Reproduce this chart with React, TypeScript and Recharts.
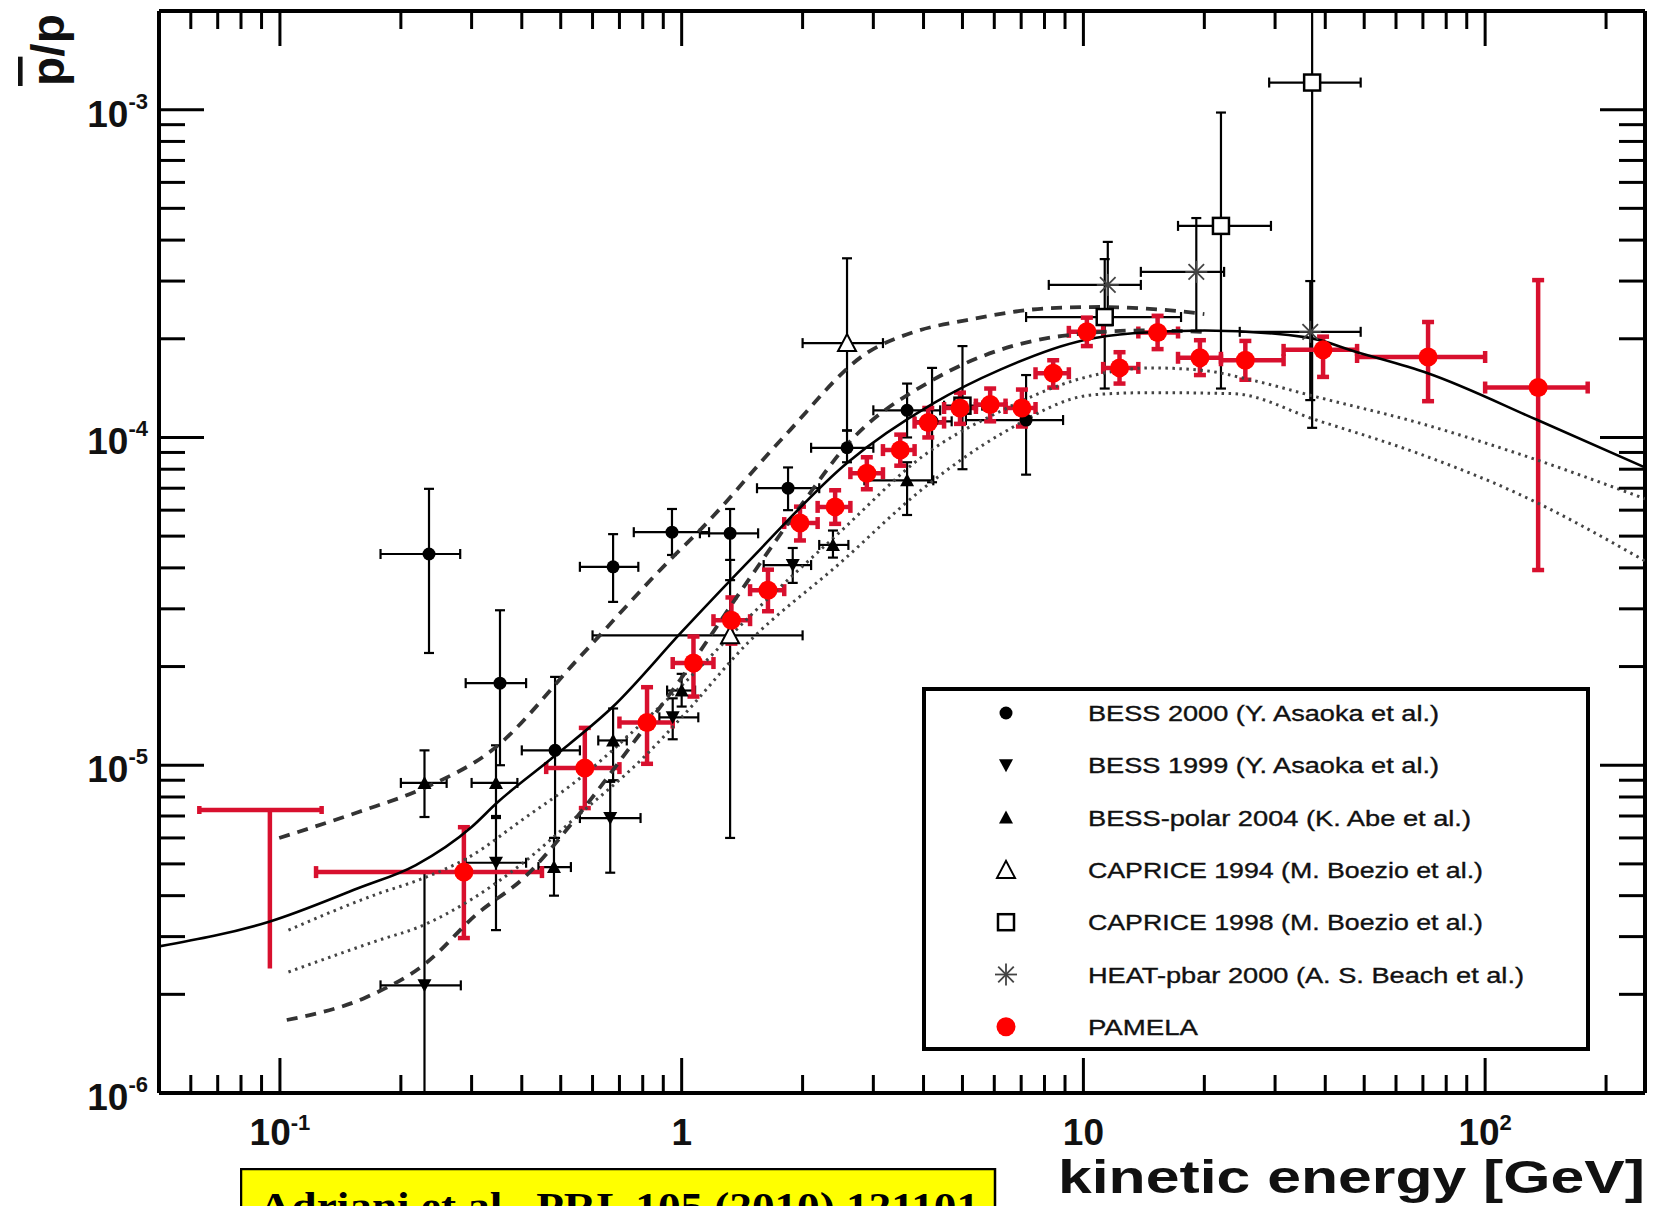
import React from 'react';
import { ComposedChart, Scatter, XAxis, YAxis, ErrorBar, Legend } from 'recharts';

const W = 1659;
const H = 1206;
const FONT = "'Liberation Sans', Arial, Helvetica, sans-serif";

// axis ticks (log decades + minor steps)
const xTicks = [0.05, 0.06, 0.07, 0.08, 0.09, 0.1, 0.2, 0.3, 0.4, 0.5, 0.6, 0.7, 0.8, 0.9, 1, 2, 3, 4, 5, 6, 7, 8, 9, 10, 20, 30, 40, 50, 60, 70, 80, 90, 100, 200];
const yTicks = [1e-6, 2e-6, 3e-6, 4e-6, 5e-6, 6e-6, 7e-6, 8e-6, 9e-6, 1e-5, 2e-5, 3e-5, 4e-5, 5e-5, 6e-5, 7e-5, 8e-5, 9e-5, 1e-4, 2e-4, 3e-4, 4e-4, 5e-4, 6e-4, 7e-4, 8e-4, 9e-4, 1e-3];

// PAMELA
const pamE = [0.287, 0.574, 0.82, 1.07, 1.33, 1.64, 1.97, 2.41, 2.89, 3.5, 4.11, 4.93, 5.86, 7.03, 8.41, 10.2, 12.3, 15.3, 19.5, 25.3, 39.5, 72.1, 135.5];
const pamR = [4.72e-6, 9.8e-6, 1.35e-5, 2.05e-5, 2.77e-5, 3.42e-5, 5.48e-5, 6.14e-5, 7.78e-5, 9.15e-5, 1.11e-4, 1.23e-4, 1.26e-4, 1.23e-4, 1.57e-4, 2.1e-4, 1.63e-4, 2.09e-4, 1.75e-4, 1.72e-4, 1.85e-4, 1.76e-4, 1.42e-4];
const pamELo = [0.123, 0.46, 0.7, 0.95, 1.2, 1.48, 1.8, 2.18, 2.63, 3.17, 3.8, 4.5, 5.4, 6.4, 7.6, 9.2, 11.2, 13.7, 17.2, 22, 31.5, 48, 100];
const pamEHi = [0.449, 0.7, 0.95, 1.2, 1.48, 1.8, 2.18, 2.63, 3.17, 3.8, 4.5, 5.4, 6.4, 7.6, 9.2, 11.2, 13.7, 17.2, 22, 31.5, 48, 100, 180];
const pamRLo = [2.97e-6, 7.4e-6, 1.01e-5, 1.62e-5, 2.35e-5, 2.95e-5, 4.85e-5, 5.45e-5, 6.95e-5, 8.2e-5, 1.0e-4, 1.1e-4, 1.12e-4, 1.08e-4, 1.42e-4, 1.9e-4, 1.46e-4, 1.86e-4, 1.55e-4, 1.5e-4, 1.53e-4, 1.29e-4, 3.94e-5];
const pamRHi = [6.47e-6, 1.3e-5, 1.73e-5, 2.47e-5, 3.25e-5, 3.95e-5, 6.15e-5, 6.9e-5, 8.7e-5, 1.02e-4, 1.23e-4, 1.37e-4, 1.41e-4, 1.4e-4, 1.72e-4, 2.32e-4, 1.82e-4, 2.35e-4, 1.98e-4, 1.97e-4, 2.03e-4, 2.25e-4, 3.02e-4];

// PAMELA upper limit (lowest bin)
const limE = [0.0944];
const limR = [7.3e-6];
const limELo = [0.063];
const limEHi = [0.127];
const limRLo = [2.4e-6];
const limRHi = [7.3e-6];

// BESS 2000
const b00E = [0.235, 0.353, 0.484, 0.675, 0.946, 1.32, 1.84, 2.58, 3.64, 4.2, 7.2];
const b00R = [4.41e-5, 1.78e-5, 1.11e-5, 4.03e-5, 5.14e-5, 5.1e-5, 7.0e-5, 9.3e-5, 1.21e-4, 1.12e-4, 1.13e-4];
const b00ELo = [0.178, 0.29, 0.4, 0.558, 0.76, 1.11, 1.54, 2.1, 3.0, 3.8, 5.1];
const b00EHi = [0.281, 0.41, 0.558, 0.78, 1.17, 1.55, 2.2, 3.0, 4.4, 4.7, 8.9];
const b00RLo = [2.2e-5, 1.0e-5, 6.0e-6, 3.15e-5, 4.38e-5, 3.67e-5, 6.0e-5, 8.4e-5, 1.0e-4, 7.3e-5, 7.7e-5];
const b00RHi = [6.97e-5, 2.97e-5, 1.86e-5, 5.07e-5, 6.05e-5, 6.05e-5, 8.1e-5, 1.05e-4, 1.46e-4, 1.63e-4, 1.55e-4];

// BESS 1999
const b99E = [0.229, 0.345, 0.664, 0.95, 1.89];
const b99R = [2.13e-6, 5.04e-6, 6.9e-6, 1.4e-5, 4.08e-5];
const b99ELo = [0.178, 0.29, 0.558, 0.88, 1.6];
const b99EHi = [0.282, 0.41, 0.79, 1.1, 2.1];
const b99RLo = [1e-6, 3.14e-6, 4.7e-6, 1.2e-5, 3.6e-5];
const b99RHi = [4.69e-6, 7.0e-6, 8.9e-6, 1.6e-5, 4.6e-5];

// BESS-polar 2004
const bpE = [0.229, 0.345, 0.481, 0.675, 1.0, 2.38, 3.64];
const bpR = [8.83e-6, 8.83e-6, 4.89e-6, 1.19e-5, 1.69e-5, 4.7e-5, 7.4e-5];
const bpELo = [0.2, 0.3, 0.44, 0.62, 0.92, 2.2, 2.85];
const bpEHi = [0.26, 0.39, 0.53, 0.73, 1.08, 2.6, 4.23];
const bpRLo = [6.95e-6, 6.9e-6, 4.0e-6, 9.0e-6, 1.51e-5, 4.3e-5, 5.8e-5];
const bpRHi = [1.11e-5, 1.15e-5, 6.0e-6, 1.49e-5, 1.9e-5, 5.2e-5, 8.4e-5];

// CAPRICE 1994
const c94E = [1.32, 2.58];
const c94R = [2.49e-5, 1.94e-4];
const c94ELo = [0.6, 2.0];
const c94EHi = [2.0, 3.17];
const c94RLo = [6.0e-6, 1.05e-4];
const c94RHi = [4.23e-5, 3.52e-4];

// CAPRICE 1998
const c98E = [5.0, 11.3, 22.0, 37.1];
const c98R = [1.25e-4, 2.33e-4, 4.42e-4, 1.21e-3];
const c98ELo = [4.5, 7.2, 17.2, 29];
const c98EHi = [5.6, 17.5, 29.3, 49];
const c98RLo = [8.0e-5, 1.41e-4, 1.41e-4, 1.07e-4];
const c98RHi = [1.9e-4, 3.5e-4, 9.8e-4, 2e-3];

// HEAT-pbar 2000
const heatE = [11.5, 19.1, 36.7];
const heatR = [2.92e-4, 3.2e-4, 2.1e-4];
const heatELo = [8.2, 13.9, 24.5];
const heatEHi = [13.9, 22.4, 49];
const heatRLo = [2.2e-4, 2.1e-4, 1.3e-4];
const heatRHi = [3.95e-4, 4.67e-4, 3.0e-4];

// theory curves
const solidE = [0.05, 0.094, 0.157, 0.218, 0.3, 0.347, 0.475, 0.675, 1.0, 1.48, 2.58, 4.23, 6.21, 10, 13.3, 20, 36, 48, 72, 135, 250];
const solidR = [2.8e-6, 3.33e-6, 4.22e-6, 4.96e-6, 6.48e-6, 7.68e-6, 1.05e-5, 1.51e-5, 2.55e-5, 4.23e-5, 8.36e-5, 1.27e-4, 1.61e-4, 1.98e-4, 2.08e-4, 2.12e-4, 2.02e-4, 1.82e-4, 1.57e-4, 1.13e-4, 8.1e-5];
const dashHiE = [0.0996, 0.157, 0.231, 0.337, 0.558, 0.935, 1.11, 1.79, 2.89, 3.8, 5.13, 8.26, 11, 17.7, 20];
const dashHiR = [6.0e-6, 7.2e-6, 8.57e-6, 1.11e-5, 2.14e-5, 4.23e-5, 5.21e-5, 1.0e-4, 1.81e-4, 2.1e-4, 2.28e-4, 2.48e-4, 2.5e-4, 2.42e-4, 2.38e-4];
const dashLoE = [0.104, 0.164, 0.231, 0.308, 0.41, 0.546, 0.75, 1.0, 1.45, 2.0, 2.58, 4.23, 6.2, 9.1, 14, 20];
const dashLoR = [1.67e-6, 1.96e-6, 2.49e-6, 3.5e-6, 4.6e-6, 6.9e-6, 1.15e-5, 1.85e-5, 3.6e-5, 6.3e-5, 9.5e-5, 1.5e-4, 1.85e-4, 2.05e-4, 2.12e-4, 2.1e-4];
const dotHiE = [0.105, 0.177, 0.222, 0.3, 0.4, 0.55, 0.8, 1.0, 1.5, 2.5, 4.0, 6.2, 10, 14.7, 20, 26, 38, 68, 120, 250];
const dotHiR = [3.14e-6, 4.07e-6, 4.47e-6, 5.3e-6, 6.8e-6, 9.0e-6, 1.35e-5, 1.75e-5, 2.9e-5, 5.2e-5, 8.8e-5, 1.2e-4, 1.52e-4, 1.63e-4, 1.6e-4, 1.5e-4, 1.33e-4, 1.11e-4, 8.95e-5, 6.5e-5];
const dotLoE = [0.105, 0.177, 0.222, 0.3, 0.4, 0.55, 0.8, 1.0, 1.46, 2.48, 4.0, 6.2, 10.6, 14.7, 23.6, 38, 68, 120, 250];
const dotLoR = [2.34e-6, 2.93e-6, 3.21e-6, 3.9e-6, 5.0e-6, 7.0e-6, 1.05e-5, 1.4e-5, 2.36e-5, 4.14e-5, 7.0e-5, 1.02e-4, 1.35e-4, 1.37e-4, 1.36e-4, 1.13e-4, 8.95e-5, 6.76e-5, 4.2e-5];

const legendLabels = [
  'BESS 2000 (Y. Asaoka et al.)',
  'BESS 1999 (Y. Asaoka et al.)',
  'BESS-polar 2004 (K. Abe et al.)',
  'CAPRICE 1994 (M. Boezio et al.)',
  'CAPRICE 1998 (M. Boezio et al.)',
  'HEAT-pbar 2000 (A. S. Beach et al.)',
  'PAMELA',
];
const legendWidths = [351, 351, 383, 395, 395, 436, 110];

const pts = (x: number[], y: number[], xlo: number[], xhi: number[], ylo: number[], yhi: number[]) =>
  x.map((xv, i) => ({ x: xv, y: y[i], ex: [xv - xlo[i], xhi[i] - xv], ey: [y[i] - ylo[i], yhi[i] - y[i]] }));
const curve = (x: number[], y: number[]) => x.map((xv, i) => ({ x: xv, y: y[i] }));

const pamela = pts(pamE, pamR, pamELo, pamEHi, pamRLo, pamRHi);
const pamLimit = pts(limE, limR, limELo, limEHi, limRLo, limRHi);
const bess00 = pts(b00E, b00R, b00ELo, b00EHi, b00RLo, b00RHi);
const bess99 = pts(b99E, b99R, b99ELo, b99EHi, b99RLo, b99RHi);
const bessPolar = pts(bpE, bpR, bpELo, bpEHi, bpRLo, bpRHi);
const cap94 = pts(c94E, c94R, c94ELo, c94EHi, c94RLo, c94RHi);
const cap98 = pts(c98E, c98R, c98ELo, c98EHi, c98RLo, c98RHi);
const heat = pts(heatE, heatR, heatELo, heatEHi, heatRLo, heatRHi);

const isMajor = (v: number) => Math.abs(Math.log10(v) - Math.round(Math.log10(v))) < 1e-6;

const powText = (v: number, x: number, y: number, anchor: 'middle' | 'end', supDy: number) => {
  const e = Math.round(Math.log10(v));
  const common = { x, y, textAnchor: anchor, fontFamily: FONT, fontWeight: 'bold' as const, fontSize: 37, fill: '#111' };
  if (e === 0) return <text {...common}>1</text>;
  if (e === 1) return <text {...common}>10</text>;
  return (
    <text {...common}>
      <tspan>10</tspan>
      <tspan dy={supDy} fontSize={22}>{e}</tspan>
    </text>
  );
};

const BottomTick = (p: any) => {
  const v = p.payload.value;
  const maj = isMajor(v);
  return (
    <g>
      <line x1={p.x} y1={p.y} x2={p.x} y2={p.y - (maj ? 35 : 18)} stroke="#000" strokeWidth={3} />
      {maj && powText(v, p.x, 1145, 'middle', -15)}
    </g>
  );
};
const TopTick = (p: any) => {
  const maj = isMajor(p.payload.value);
  return <line x1={p.x} y1={p.y} x2={p.x} y2={p.y + (maj ? 35 : 18)} stroke="#000" strokeWidth={3} />;
};
const LeftTick = (p: any) => {
  const v = p.payload.value;
  const maj = isMajor(v);
  return (
    <g>
      <line x1={p.x} y1={p.y} x2={p.x + (maj ? 45 : 26)} y2={p.y} stroke="#000" strokeWidth={3} />
      {maj && powText(v, 148, p.y + 17, 'end', -18)}
    </g>
  );
};
const RightTick = (p: any) => {
  const maj = isMajor(p.payload.value);
  return <line x1={p.x} y1={p.y} x2={p.x - (maj ? 45 : 26)} y2={p.y} stroke="#000" strokeWidth={3} />;
};

const redDot = (p: any) => <circle cx={p.cx} cy={p.cy} r={9.5} fill="#ff0000" />;
const blackDot = (p: any) => <circle cx={p.cx} cy={p.cy} r={6.5} fill="#000" />;
const downTri = (p: any) => (
  <polygon points={`${p.cx - 7},${p.cy - 6} ${p.cx + 7},${p.cy - 6} ${p.cx},${p.cy + 7}`} fill="#000" />
);
const upTri = (p: any) => (
  <polygon points={`${p.cx - 7},${p.cy + 6} ${p.cx + 7},${p.cy + 6} ${p.cx},${p.cy - 7}`} fill="#000" />
);
const openTri = (p: any) => (
  <polygon points={`${p.cx - 9},${p.cy + 8} ${p.cx + 9},${p.cy + 8} ${p.cx},${p.cy - 9}`} fill="#fff" stroke="#000" strokeWidth={2} />
);
const openSquare = (p: any) => (
  <rect x={p.cx - 8} y={p.cy - 8} width={16} height={16} fill="#fff" stroke="#000" strokeWidth={2.5} />
);
const star = (p: any) => (
  <g stroke="#444" strokeWidth={1.8}>
    {[0, 45, 90, 135].map((a) => {
      const r = 11;
      const dx = r * Math.cos((a * Math.PI) / 180);
      const dy = r * Math.sin((a * Math.PI) / 180);
      return <line key={a} x1={p.cx - dx} y1={p.cy - dy} x2={p.cx + dx} y2={p.cy + dy} />;
    })}
  </g>
);
const noShape = () => <g />;

const legendMarkers = [blackDot, downTri, upTri, openTri, openSquare, star, redDot];

const LegendBox = () => (
  <svg width={668} height={364} style={{ display: 'block' }}>
    <rect x={2} y={2} width={664} height={360} fill="#fff" stroke="#000" strokeWidth={4} />
    {legendLabels.map((label, i) => {
      const cy = 26 + i * 52.3;
      return (
        <g key={label}>
          {legendMarkers[i]({ cx: 84, cy })}
          <text x={166} y={cy + 8} fontFamily={FONT} fontSize={22} fill="#111" stroke="#111" strokeWidth={0.35} textLength={legendWidths[i]} lengthAdjust="spacingAndGlyphs">
            {label}
          </text>
        </g>
      );
    })}
  </svg>
);

const YTitle = () => (
  <text transform="translate(64,86) rotate(-90)" fontFamily={FONT} fontWeight="bold" fontSize={46} fill="#111" textLength={72} lengthAdjust="spacingAndGlyphs">
    <tspan style={{ textDecoration: 'overline' }}>p</tspan>/p
  </text>
);
const XTitle = () => (
  <text x={1058} y={1193} fontFamily={FONT} fontWeight="bold" fontSize={46} fill="#111" textLength={587} lengthAdjust="spacingAndGlyphs">
    kinetic energy [GeV]
  </text>
);

const blackBars = (w = 5) => [
  <ErrorBar key="x" dataKey="ex" direction="x" width={w} stroke="#000" strokeWidth={2.2} />,
  <ErrorBar key="y" dataKey="ey" direction="y" width={w} stroke="#000" strokeWidth={2.2} />,
];

const dotLine = { stroke: '#444', strokeWidth: 3, strokeDasharray: '2.5 4.5' };
const dashLine = { stroke: '#333', strokeWidth: 3.8, strokeDasharray: '11 8' };

export default function App() {
  return (
    <div style={{ position: 'absolute', left: 0, top: 0, width: W, height: H, overflow: 'hidden', background: '#fff' }}>
      <ComposedChart width={W} height={H} margin={{ top: 10, right: 13, bottom: 112, left: 158 }}>
        <XAxis
          dataKey="x"
          type="number"
          scale="log"
          domain={[0.05, 250]}
          allowDataOverflow
          ticks={xTicks}
          interval={0}
          height={1}
          tickSize={0}
          tickMargin={0}
          tickLine={false}
          axisLine={{ stroke: '#000', strokeWidth: 4 }}
          tick={BottomTick}
          label={{ content: XTitle }}
        />
        <XAxis
          xAxisId="top"
          orientation="top"
          dataKey="x"
          type="number"
          scale="log"
          domain={[0.05, 250]}
          allowDataOverflow
          ticks={xTicks}
          interval={0}
          height={1}
          tickSize={0}
          tickMargin={0}
          tickLine={false}
          axisLine={{ stroke: '#000', strokeWidth: 4 }}
          tick={TopTick}
        />
        <YAxis
          dataKey="y"
          type="number"
          scale="log"
          domain={[1e-6, 2e-3]}
          allowDataOverflow
          ticks={yTicks}
          interval={0}
          width={1}
          tickSize={0}
          tickMargin={0}
          tickLine={false}
          axisLine={{ stroke: '#000', strokeWidth: 4 }}
          tick={LeftTick}
          label={{ content: YTitle }}
        />
        <YAxis
          yAxisId="right"
          orientation="right"
          dataKey="y"
          type="number"
          scale="log"
          domain={[1e-6, 2e-3]}
          allowDataOverflow
          ticks={yTicks}
          interval={0}
          width={1}
          tickSize={0}
          tickMargin={0}
          tickLine={false}
          axisLine={{ stroke: '#000', strokeWidth: 4 }}
          tick={RightTick}
        />

        <Scatter data={curve(dotHiE, dotHiR)} shape={noShape} line={dotLine} lineJointType="monotoneX" isAnimationActive={false} legendType="none" />
        <Scatter data={curve(dotLoE, dotLoR)} shape={noShape} line={dotLine} lineJointType="monotoneX" isAnimationActive={false} legendType="none" />
        <Scatter data={curve(dashHiE, dashHiR)} shape={noShape} line={dashLine} lineJointType="monotoneX" isAnimationActive={false} legendType="none" />
        <Scatter data={curve(dashLoE, dashLoR)} shape={noShape} line={dashLine} lineJointType="monotoneX" isAnimationActive={false} legendType="none" />
        <Scatter data={curve(solidE, solidR)} shape={noShape} line={{ stroke: '#000', strokeWidth: 2.6 }} lineJointType="monotoneX" isAnimationActive={false} legendType="none" />

        <Scatter name="BESS 2000 (Y. Asaoka et al.)" data={bess00} shape={blackDot} isAnimationActive={false}>{blackBars()}</Scatter>
        <Scatter name="BESS 1999 (Y. Asaoka et al.)" data={bess99} shape={downTri} isAnimationActive={false}>{blackBars()}</Scatter>
        <Scatter name="BESS-polar 2004 (K. Abe et al.)" data={bessPolar} shape={upTri} isAnimationActive={false}>{blackBars()}</Scatter>
        <Scatter name="CAPRICE 1994 (M. Boezio et al.)" data={cap94} shape={openTri} isAnimationActive={false}>{blackBars()}</Scatter>
        <Scatter name="CAPRICE 1998 (M. Boezio et al.)" data={cap98} shape={openSquare} isAnimationActive={false}>{blackBars()}</Scatter>
        <Scatter name="HEAT-pbar 2000 (A. S. Beach et al.)" data={heat} shape={star} isAnimationActive={false}>{blackBars()}</Scatter>

        <Scatter data={pamLimit} shape={noShape} isAnimationActive={false} legendType="none">
          <ErrorBar dataKey="ex" direction="x" width={4} stroke="#d8102e" strokeWidth={4.5} />
          <ErrorBar dataKey="ey" direction="y" width={0} stroke="#d8102e" strokeWidth={4.5} />
        </Scatter>
        <Scatter name="PAMELA" data={pamela} shape={redDot} isAnimationActive={false}>
          <ErrorBar dataKey="ex" direction="x" width={6} stroke="#d8102e" strokeWidth={4.5} />
          <ErrorBar dataKey="ey" direction="y" width={6} stroke="#d8102e" strokeWidth={4.5} />
        </Scatter>

        <Legend
          layout="vertical"
          align="center"
          verticalAlign="middle"
          width={668}
          height={364}
          content={LegendBox}
          wrapperStyle={{ left: 922, top: 687, width: 668, height: 364 }}
        />
      </ComposedChart>
      <svg width={760} height={40} style={{ position: 'absolute', left: 240, top: 1168 }}>
        <rect x={1} y={1} width={754} height={60} fill="#ffff00" stroke="#000" strokeWidth={2.5} />
        <text x={19} y={52} fontFamily="'Liberation Serif', 'DejaVu Serif', serif" fontWeight="bold" fontSize={40} fill="#000" textLength={720} lengthAdjust="spacingAndGlyphs">
          Adriani et al., PRL 105 (2010) 121101
        </text>
      </svg>
    </div>
  );
}
